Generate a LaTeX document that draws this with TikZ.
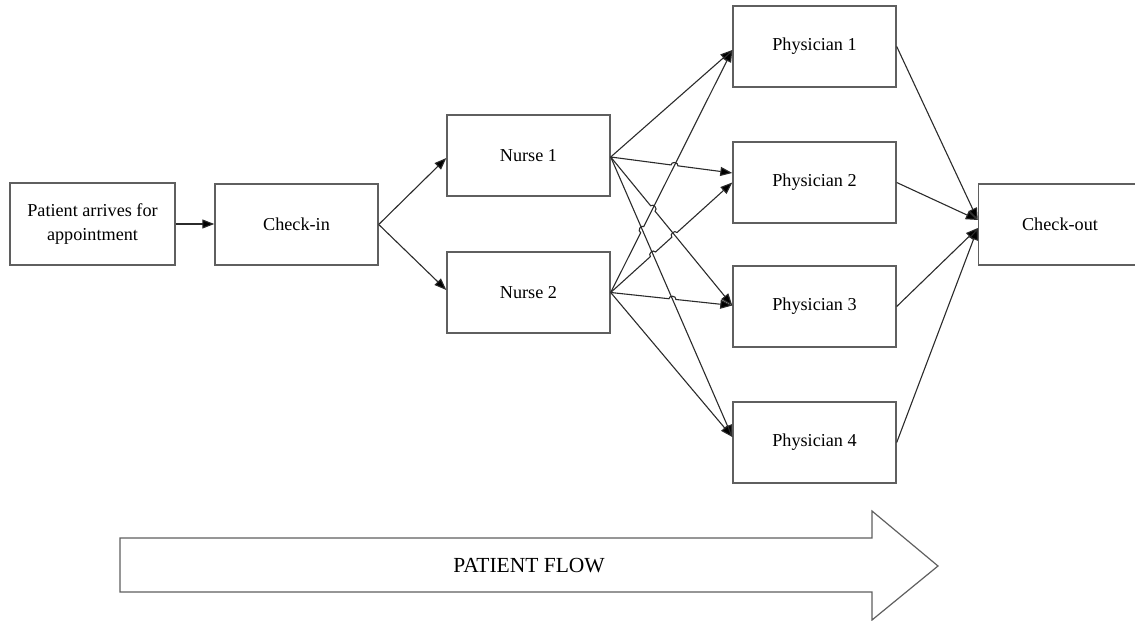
\documentclass[tikz,border=0pt]{standalone}
\usepackage{fontspec}
\setmainfont{Liberation Serif}
\usetikzlibrary{arrows.meta,calc,intersections}

\definecolor{boxgray}{HTML}{5F5F5F}
\definecolor{linegray}{HTML}{2B2B2B}

\begin{document}
\begin{tikzpicture}[x=1pt,y=-1pt,
  box/.style={draw=boxgray, line width=1.4pt, fill=white,
    minimum width=163pt, minimum height=81pt, inner sep=0pt,
    align=center, font=\fontsize{18.2}{24}\selectfont},
  conn/.style={draw=linegray, line width=1.1pt,
    -{Triangle[length=12pt,width=9pt,fill=black]}},
  hop/.style={bend left=90, looseness=1.4},
  flowarrow/.style={draw=boxgray, line width=1.2pt, fill=white}
]
\useasboundingbox (0,0) rectangle (1135,621);
\clip (0,0) rectangle (1135,621);

% process boxes
\node[box, minimum width=165pt, minimum height=82pt] (pat) at (92.5,224) {Patient arrives for\\appointment};
\node[box] (chk) at (296.5,224.5) {Check-in};
\node[box] (n1) at (528.5,155.5) {Nurse 1};
\node[box] (n2) at (528.5,292.5) {Nurse 2};
\node[box] (p1) at (814.5,46.5) {Physician 1};
\node[box] (p2) at (814.5,182.5) {Physician 2};
\node[box] (p3) at (814.5,306.5) {Physician 3};
\node[box] (p4) at (814.5,442.5) {Physician 4};
\node[box] (co) at (1060,224.5) {Check-out};

% connection points
\coordinate (n1o) at ([yshift=-1.5pt]n1.east);
\coordinate (n2o) at (n2.east);
\coordinate (p1i) at ([yshift=-3.5pt]p1.west);
\coordinate (p2a) at ([yshift=9.5pt]p2.west);
\coordinate (p2b) at (p2.west);
\coordinate (p3i) at ([yshift=1pt]p3.west);
\coordinate (p4i) at ([yshift=5.5pt]p4.west);
\coordinate (coa) at ([yshift=4.5pt]co.west);
\coordinate (cob) at ([yshift=-3.5pt]co.west);

% front-desk flow
\draw[conn] (pat) -- (pat -| chk.west);
\draw[conn] (chk.east) -- ([yshift=-2.5pt]n1.west);
\draw[conn] (chk.east) -- ([yshift=2.5pt]n2.west);

% reference lines for the line hops
\path[name path=l12] (n1o) -- (p2a);
\path[name path=l13] (n1o) -- (p3i);
\path[name path=l14] (n1o) -- (p4i);
\path[name path=l21] (n2o) -- (p1i);
\path[name path=l22] (n2o) -- (p2b);
\path[name path=l23] (n2o) -- (p3i);
\path[name intersections={of=l21 and l14, by=xa}];
\path[name intersections={of=l12 and l21, by=xb}];
\path[name intersections={of=l13 and l21, by=xc}];
\path[name intersections={of=l22 and l14, by=xd}];
\path[name intersections={of=l22 and l13, by=xe}];
\path[name intersections={of=l23 and l14, by=xf}];

% nurse to physician connectors
\draw[conn] (n1o) -- (p1i);
\draw[conn] (n1o) -- ($(xb)!3.5pt!(n1o)$) to[hop] ($(xb)!3.5pt!(p2a)$) -- (p2a);
\draw[conn] (n1o) -- ($(xc)!3.5pt!(n1o)$) to[hop] ($(xc)!3.5pt!(p3i)$) -- (p3i);
\draw[conn] (n1o) -- (p4i);
\draw[conn] (n2o) -- ($(xa)!3.5pt!(n2o)$) to[hop] ($(xa)!3.5pt!(p1i)$) -- (p1i);
\draw[conn] (n2o) -- ($(xd)!3.5pt!(n2o)$) to[hop] ($(xd)!3.5pt!(p2b)$)
  -- ($(xe)!3.5pt!(n2o)$) to[hop] ($(xe)!3.5pt!(p2b)$) -- (p2b);
\draw[conn] (n2o) -- ($(xf)!3.5pt!(n2o)$) to[hop] ($(xf)!3.5pt!(p3i)$) -- (p3i);
\draw[conn] (n2o) -- (p4i);

% physicians to check-out
\draw[conn] (p1.east) -- (coa);
\draw[conn] (p2.east) -- (coa);
\draw[conn] (p3.east) -- (cob);
\draw[conn] (p4.east) -- (cob);

% patient flow arrow
\draw[flowarrow] (120,538) -- (872,538) -- (872,511) -- (938,566)
  -- (872,620) -- (872,592) -- (120,592) -- cycle;
\node[font=\fontsize{21.5}{25}\selectfont] (flow) at (529,566) {PATIENT FLOW};
\end{tikzpicture}
\end{document}
